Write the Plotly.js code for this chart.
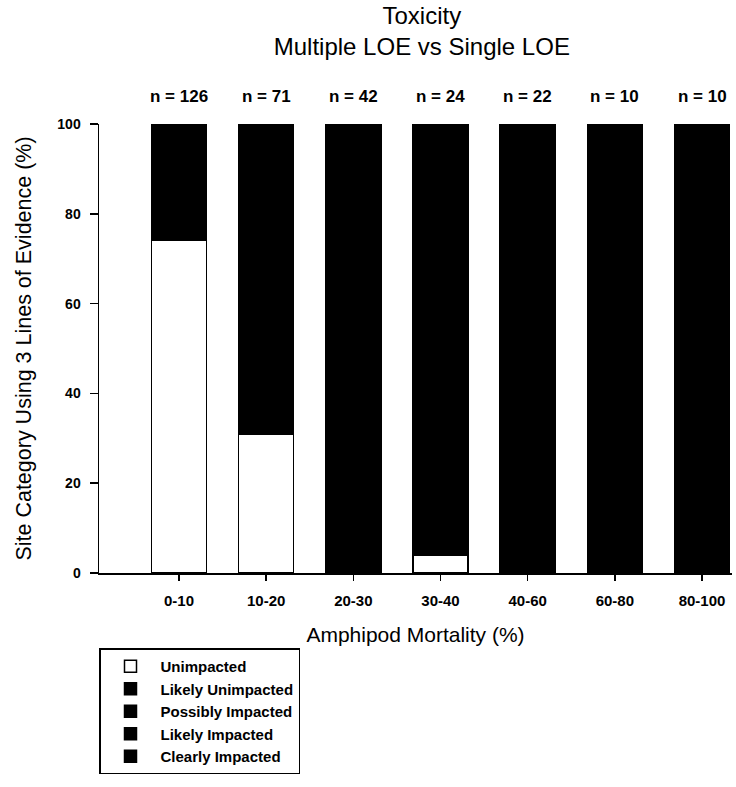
<!DOCTYPE html>
<html>
<head>
<meta charset="utf-8">
<script src="https://cdn.plot.ly/plotly-3.0.1.min.js"></script>
<style>
  html, body { margin: 0; padding: 0; background: #ffffff; }
  #chart { width: 736px; height: 787px; }
</style>
</head>
<body>
<div id="chart"></div>
<script>
// Categories (amphipod mortality bins) and sample sizes
const categories = ["0-10", "10-20", "20-30", "30-40", "40-60", "60-80", "80-100"];
const sampleSizes = [126, 71, 42, 24, 22, 10, 10];

// Site category percentages (stacked, bottom to top)
const seriesNames = ["Unimpacted", "Likely Unimpacted", "Possibly Impacted", "Likely Impacted", "Clearly Impacted"];
const unimpacted        = [74, 31, 0, 4, 0, 0, 0];
const likelyUnimpacted  = [17, 35, 40, 29, 14, 10, 0];
const possiblyImpacted  = [6, 20, 31, 33, 32, 30, 20];
const likelyImpacted    = [3, 10, 19, 21, 36, 30, 40];
const clearlyImpacted   = [0, 4, 10, 13, 18, 30, 40];

const yTickVals = [0, 20, 40, 60, 80, 100];

const seriesValues = [unimpacted, likelyUnimpacted, possiblyImpacted, likelyImpacted, clearlyImpacted];
const seriesColors = ["#ffffff", "#000000", "#000000", "#000000", "#000000"];

const FONT = "Liberation Sans, Arial, sans-serif";

const traces = seriesNames.map((name, i) => ({
  type: "bar",
  name: name,
  x: categories,
  y: seriesValues[i],
  marker: { color: seriesColors[i], line: { color: "#000000", width: 1.5 } },
  hoverinfo: "x+y+name"
}));

const annotations = categories.map((c, i) => ({
  x: c,
  y: 1.062,
  xref: "x",
  yref: "paper",
  text: "n = " + sampleSizes[i],
  showarrow: false,
  font: { family: FONT, size: 17, color: "#000000", weight: "bold" },
  xanchor: "center",
  yanchor: "middle"
}));

const layout = {
  width: 736,
  height: 787,
  paper_bgcolor: "#ffffff",
  plot_bgcolor: "#ffffff",
  margin: { l: 99, r: 4, t: 124, b: 214 },
  barmode: "stack",
  bargap: 0.37,
  showlegend: true,
  title: {
    text: "Toxicity<br>Multiple LOE vs Single LOE",
    font: { family: FONT, size: 24, color: "#000000" },
    x: 0.51,
    xref: "paper",
    xanchor: "center",
    y: 0.970,
    yref: "container",
    yanchor: "top"
  },
  xaxis: {
    type: "category",
    range: [-0.918, 6.344],
    showline: true,
    linecolor: "#000000",
    linewidth: 1.5,
    ticks: "outside",
    ticklen: 6,
    tickwidth: 1.5,
    tickcolor: "#000000",
    ticklabelstandoff: 7,
    tickfont: { family: FONT, size: 15, color: "#000000", weight: "bold" },
    showgrid: false,
    zeroline: false,
    fixedrange: true,
    title: {
      text: "Amphipod Mortality (%)",
      font: { family: FONT, size: 21, color: "#000000" },
      standoff: 20
    }
  },
  yaxis: {
    range: [0, 100],
    tickvals: yTickVals,
    showline: true,
    linecolor: "#000000",
    linewidth: 1.5,
    ticks: "outside",
    ticklen: 8,
    tickwidth: 1.5,
    tickcolor: "#000000",
    ticklabelstandoff: 6,
    tickfont: { family: FONT, size: 14, color: "#000000", weight: "bold" },
    showgrid: false,
    zeroline: false,
    fixedrange: true,
    title: {
      text: "Site Category Using 3 Lines of Evidence (%)",
      font: { family: FONT, size: 21.5, color: "#000000" },
      standoff: 20
    }
  },
  legend: {
    x: 0.0,
    y: -0.168,
    xanchor: "left",
    yanchor: "top",
    traceorder: "normal",
    bordercolor: "#000000",
    borderwidth: 1.5,
    bgcolor: "#ffffff",
    font: { family: FONT, size: 15, color: "#000000", weight: "bold" },
    tracegroupgap: 0,
    itemwidth: 50
  },
  annotations: annotations
};

Plotly.newPlot("chart", traces, layout, { displayModeBar: false, staticPlot: true });
</script>
</body>
</html>
